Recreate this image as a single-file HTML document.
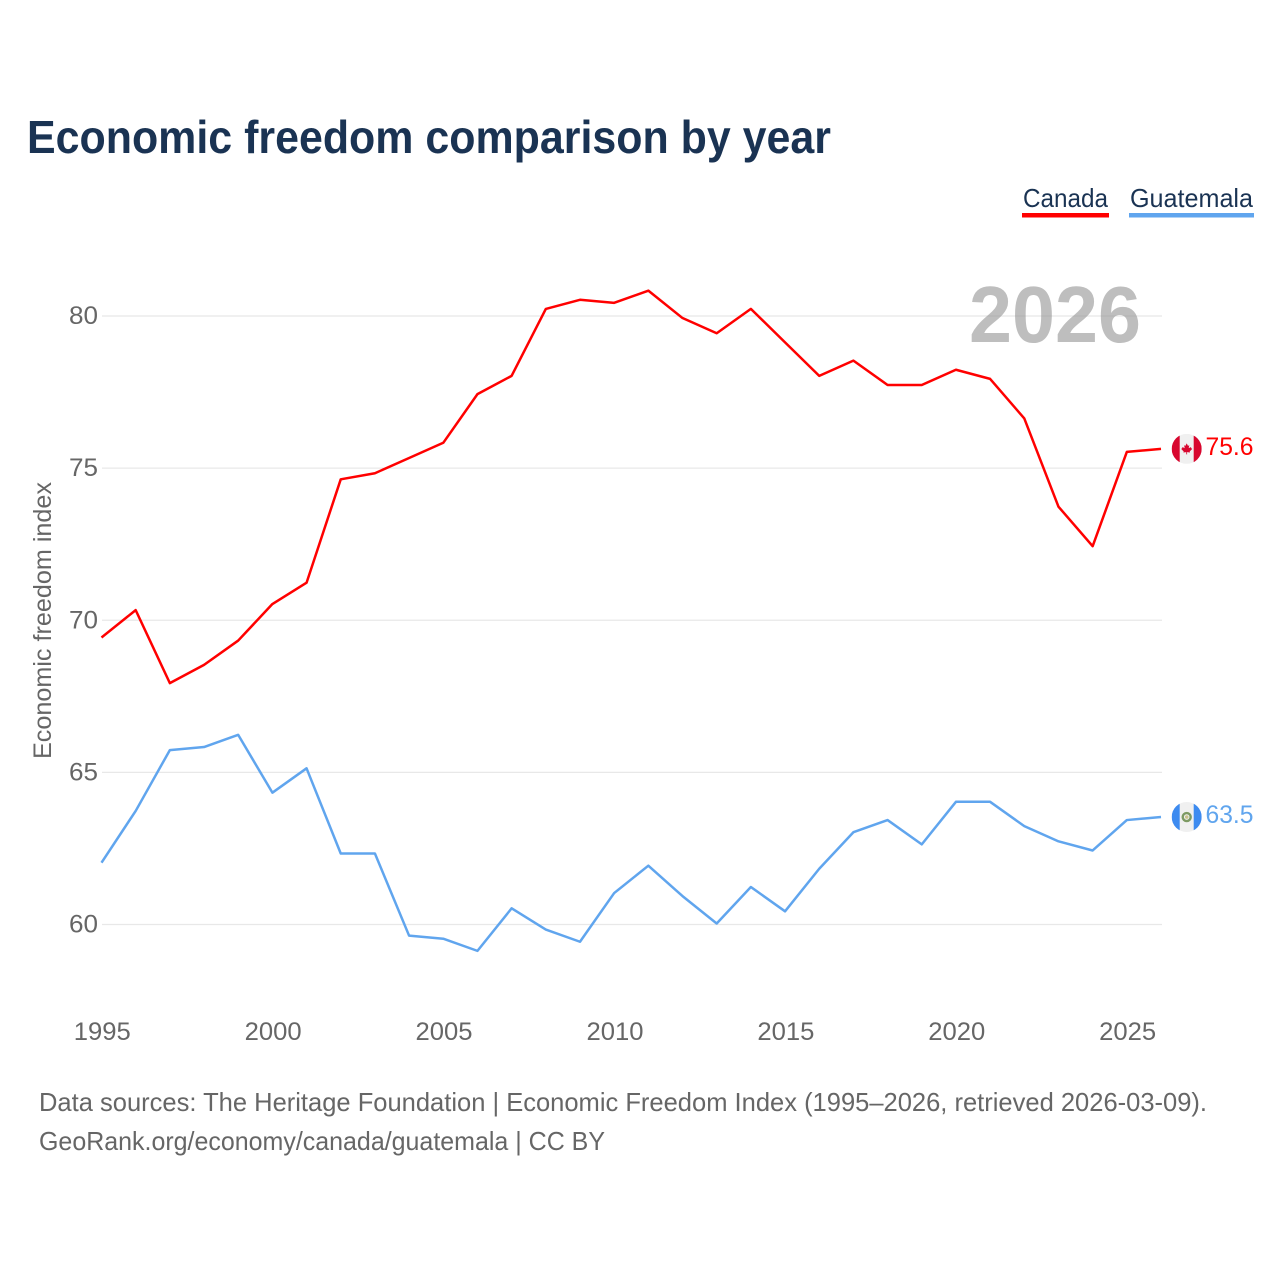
<!DOCTYPE html>
<html lang="en">
<head>
<meta charset="utf-8">
<title>Economic freedom comparison by year</title>
<style>
html,body{margin:0;padding:0;background:#fff;width:1280px;height:1280px;overflow:hidden}
svg{display:block;font-family:"Liberation Sans",sans-serif}
</style>
</head>
<body>
<svg id="chart" xmlns="http://www.w3.org/2000/svg" width="1280" height="1280" viewBox="0 0 1280 1280">
  <rect width="1280" height="1280" fill="#fff"/>
  <text x="27" y="153" font-size="46" font-weight="700" fill="#1a3353" textLength="804" lengthAdjust="spacingAndGlyphs">Economic freedom comparison by year</text>

  <g>
    <g>
      <text x="1023" y="207" font-size="26" fill="#1a3353" textLength="85" lengthAdjust="spacingAndGlyphs">Canada</text>
      <rect x="1022" y="213" width="87" height="4.5" fill="#ff0000"/>
    </g>
    <g>
      <text x="1130" y="207" font-size="26" fill="#1a3353" textLength="123" lengthAdjust="spacingAndGlyphs">Guatemala</text>
      <rect x="1129" y="213" width="125" height="4.5" fill="#60a5ee"/>
    </g>
  </g>

  <g id="grid"></g>
  <text x="969" y="342" font-size="80" font-weight="700" fill="#888" fill-opacity="0.55" textLength="172" lengthAdjust="spacingAndGlyphs">2026</text>
  <g id="yticks"></g>
  <g id="xticks"></g>
  <text transform="translate(51,620.5) rotate(-90)" text-anchor="middle" font-size="25" fill="#666" textLength="277" lengthAdjust="spacingAndGlyphs">Economic freedom index</text>
  <g id="series"></g>

  <defs>
    <clipPath id="flag-clip"><circle cx="0" cy="0" r="15"/></clipPath>
  </defs>
  <g id="flag-canada">
    <g clip-path="url(#flag-clip)">
      <rect x="-15" y="-15" width="30" height="30" fill="#f0f0f0"/>
      <rect x="-15" y="-15" width="8" height="30" fill="#d8062e"/>
      <rect x="7" y="-15" width="8" height="30" fill="#d8062e"/>
      <path d="M0,-5.5 L1.3,-3 L2.6,-3.6 L2,-0.7 L4.2,-1.8 L4.8,-0.4 L5.6,0 L3,2.6 L3.3,3.6 L0.4,3.3 L0.4,5.5 L-0.4,5.5 L-0.4,3.3 L-3.3,3.6 L-3,2.6 L-5.6,0 L-4.8,-0.4 L-4.2,-1.8 L-2,-0.7 L-2.6,-3.6 L-1.3,-3 Z" fill="#d8062e"/>
    </g>
  </g>
  <g id="flag-guatemala">
    <g clip-path="url(#flag-clip)">
      <rect x="-15" y="-15" width="30" height="30" fill="#f0f0f0"/>
      <rect x="-15" y="-15" width="8" height="30" fill="#3d8bf0"/>
      <rect x="7" y="-15" width="8" height="30" fill="#3d8bf0"/>
      <circle cx="0" cy="0" r="4" fill="none" stroke="#7d9a63" stroke-width="2.4"/>
      <circle cx="0" cy="0" r="1.8" fill="#c9c28c"/>
    </g>
  </g>
  <g id="endlabels"></g>

  <g font-size="26" fill="#666">
    <text x="39" y="1111" textLength="1168" lengthAdjust="spacingAndGlyphs">Data sources: The Heritage Foundation | Economic Freedom Index (1995–2026, retrieved 2026-03-09).</text>
    <text x="39" y="1150" textLength="566" lengthAdjust="spacingAndGlyphs">GeoRank.org/economy/canada/guatemala | CC BY</text>
  </g>
</svg>
<script>
const years = [1995,1996,1997,1998,1999,2000,2001,2002,2003,2004,2005,2006,2007,2008,2009,2010,2011,2012,2013,2014,2015,2016,2017,2018,2019,2020,2021,2022,2023,2024,2025,2026];
const canadaValues = [69.4,70.3,67.9,68.5,69.3,70.5,71.2,74.6,74.8,75.3,75.8,77.4,78.0,80.2,80.5,80.4,80.8,79.9,79.4,80.2,79.1,78.0,78.5,77.7,77.7,78.2,77.9,76.6,73.7,72.4,75.5,75.6];
const guatemalaValues = [62.0,63.7,65.7,65.8,66.2,64.3,65.1,62.3,62.3,59.6,59.5,59.1,60.5,59.8,59.4,61.0,61.9,60.9,60.0,61.2,60.4,61.8,63.0,63.4,62.6,64.0,64.0,63.2,62.7,62.4,63.4,63.5];
const yTickValues = [60,65,70,75,80];
const xTickValues = [1995,2000,2005,2010,2015,2020,2025];

const NS = 'http://www.w3.org/2000/svg';
const xScale = function (year) { return 101.5 + (year - 1995) * (1161 - 101.5) / 31; };
const yScale = function (value) { return 924.5 - (value - 60) * (924.5 - 316) / 20; };
const lineOffsetY = -1;

function make(tag, attrs, parent, text) {
  const el = document.createElementNS(NS, tag);
  Object.keys(attrs).forEach(function (k) { el.setAttribute(k, attrs[k]); });
  if (text !== undefined) el.textContent = text;
  parent.appendChild(el);
  return el;
}

const gridGroup = document.getElementById('grid');
const yGroup = document.getElementById('yticks');
yTickValues.forEach(function (v) {
  const line = make('line', {x1: 102, x2: 1162, y1: yScale(v), y2: yScale(v), stroke: '#e8e8e8', 'stroke-width': 1.3}, gridGroup);
  
  
  const label = make('text', {x: 98, y: yScale(v) + 8, 'text-anchor': 'end', 'font-size': 25, fill: '#666', textLength: 29, lengthAdjust: 'spacingAndGlyphs'}, yGroup, String(v));
  
  
});

const xGroup = document.getElementById('xticks');
xTickValues.forEach(function (y) {
  const label = make('text', {x: xScale(y) + 0.8, y: 1040, 'text-anchor': 'middle', 'font-size': 25, fill: '#666', textLength: 57, lengthAdjust: 'spacingAndGlyphs'}, xGroup, String(y));
  
  
});

const seriesGroup = document.getElementById('series');
const endGroup = document.getElementById('endlabels');

function drawSeries(key, values, color) {
  const d = values.map(function (v, i) {
    return (i ? 'L' : 'M') + xScale(years[i]).toFixed(2) + ',' + (yScale(v) + lineOffsetY).toFixed(2);
  }).join(' ');
  const path = make('path', {d: d, fill: 'none', stroke: color, 'stroke-width': 2.5, 'stroke-linejoin': 'round'}, seriesGroup);
  
  

  const last = values[values.length - 1];
  const ly = yScale(last) + lineOffsetY;
  document.getElementById('flag-' + key).setAttribute('transform', 'translate(1186.7,' + ly + ')');
  const label = make('text', {x: 1205.5, y: ly + 6, 'font-size': 25, fill: color, textLength: 48, lengthAdjust: 'spacingAndGlyphs'}, endGroup, last.toFixed(1));
  
  
}

drawSeries('canada', canadaValues, '#ff0000');
drawSeries('guatemala', guatemalaValues, '#60a5ee');
</script>
</body>
</html>
